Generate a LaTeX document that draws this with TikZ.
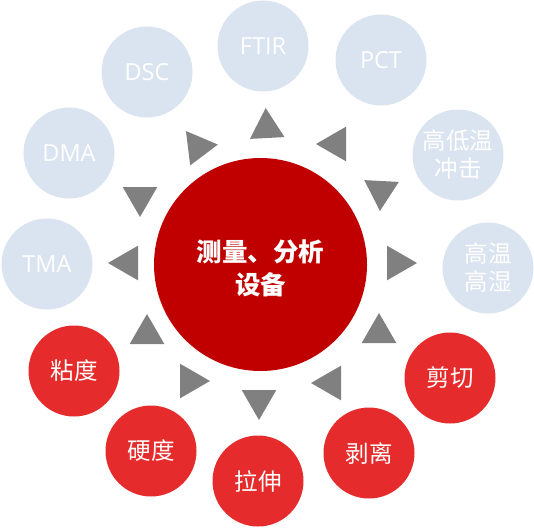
\documentclass[tikz,border=0pt]{standalone}
\usepackage{fontspec}
\setmainfont{Noto Sans CJK SC}
\newfontfamily\latinfont{Open Sans}
\usetikzlibrary{shapes.geometric}
\definecolor{paleblue}{HTML}{DAE3F0}
\definecolor{testred}{HTML}{E52B2B}
\definecolor{hubred}{HTML}{C00000}
\definecolor{pointgray}{HTML}{808080}
\tikzstyle{hub} = [
    circle,
    minimum size=213pt,
    inner sep=0pt,
    fill=hubred
]
\tikzstyle{hubtext} = [
    yshift=-4pt,
    text=white,
    align=center,
    font=\fontsize{25.5}{33}\selectfont\bfseries
]
\tikzstyle{analysis} = [
    circle,
    minimum size=91pt,
    inner sep=0pt,
    fill=paleblue,
    text=white,
    align=center,
    font=\fontsize{23.5}{28}\selectfont
]
\tikzstyle{acronym} = [
    analysis,
    font=\fontsize{23.5}{28}\selectfont\latinfont
]
\tikzstyle{mechanics} = [
    circle,
    minimum size=91pt,
    inner sep=0pt,
    fill=testred,
    text=white,
    align=center,
    font=\fontsize{23.5}{28}\selectfont
]
\tikzstyle{pointer} = [
    regular polygon,
    regular polygon sides=3,
    minimum size=40pt,
    inner sep=0pt,
    fill=pointgray
]

\begin{document}
\begin{tikzpicture}[x=1pt, y=-1pt]

\path [use as bounding box] (0,0) rectangle (534,527);

\node (hub) [hub, label={[hubtext]center:{测量、分析\\设备}}] at (260.5,264.5) {};

\node (ftir) [acronym] at (263,46) {FTIR};
\node (pct) [acronym] at (381,60) {PCT};
\node (shock) [analysis] at (458,155) {高低温\\冲击};
\node (humid) [analysis] at (488,268) {高温\\高湿};
\node (dsc) [acronym] at (147,72) {DSC};
\node (dma) [acronym] at (69,153) {DMA};
\node (tma) [acronym] at (47,264) {TMA};

\node (shear) [mechanics] at (450,378) {剪切};
\node (peel) [mechanics] at (369,453) {剥离};
\node (tensile) [mechanics] at (258,481) {拉伸};
\node (hardness) [mechanics] at (151,451) {硬度};
\node (viscosity) [mechanics] at (74,371) {粘度};

\node (pftir) [pointer, rotate=3] at (266.7,128) {};
\node (ppct) [pointer, rotate=90] at (336,144) {};
\node (pshock) [pointer, rotate=177] at (381,191) {};
\node (phumid) [pointer, rotate=-90] at (397,263) {};
\node (pshear) [pointer] at (379,333) {};
\node (ppeel) [pointer, rotate=90] at (331,383) {};
\node (ptensile) [pointer, rotate=180] at (259,400) {};
\node (phardness) [pointer, rotate=-90] at (190,381) {};
\node (pviscosity) [pointer] at (147,334) {};
\node (ptma) [pointer, rotate=90] at (128,263) {};
\node (pdma) [pointer, rotate=180] at (140,197) {};
\node (pdsc) [pointer, rotate=-83] at (198,147) {};

\end{tikzpicture}
\end{document}
